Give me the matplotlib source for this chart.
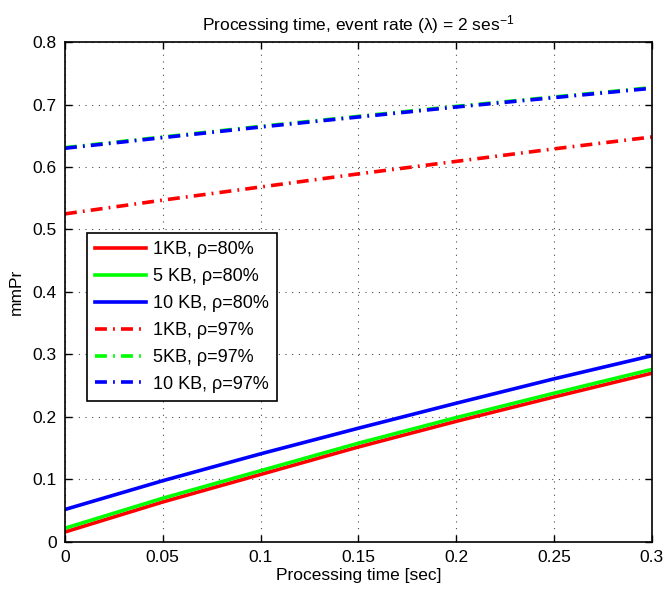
import numpy as np
import matplotlib
matplotlib.use("Agg")
import matplotlib.pyplot as plt

plt.rcParams['font.family'] = ['Liberation Sans', 'DejaVu Sans']
plt.rcParams['mathtext.fontset'] = 'custom'
plt.rcParams['mathtext.rm'] = 'Liberation Sans'
plt.rcParams['mathtext.it'] = 'Liberation Sans:italic'

# processing time [sec]
t = [0, 0.05, 0.1, 0.15, 0.2, 0.25, 0.3]

# rho = 80%
kb1_80 = [0.016, 0.064, 0.108, 0.152, 0.193, 0.232, 0.270]
kb5_80 = [0.022, 0.070, 0.114, 0.158, 0.199, 0.238, 0.276]
kb10_80 = [0.052, 0.098, 0.141, 0.182, 0.222, 0.261, 0.298]

# rho = 97%
kb1_97 = [0.525, 0.547, 0.568, 0.589, 0.609, 0.629, 0.648]
kb5_97 = [0.631, 0.648, 0.665, 0.681, 0.697, 0.712, 0.727]
kb10_97 = [0.630, 0.647, 0.664, 0.680, 0.696, 0.711, 0.726]

labels = ['1KB, \u03c1=80%', '5 KB, \u03c1=80%', '10 KB, \u03c1=80%',
          '1KB, \u03c1=97%', '5KB, \u03c1=97%', '10 KB, \u03c1=97%']

fig = plt.figure(figsize=(6.65, 5.9), dpi=100)
ax = fig.add_axes([0.0977, 0.0814, 0.8823, 0.8474])

lw = 2.6
dashdot = (0, (3.3, 1.7, 0.5, 1.7))
ax.plot(t, kb1_80, color='#ff0000', lw=lw, label=labels[0])
ax.plot(t, kb5_80, color='#00ff00', lw=lw, label=labels[1])
ax.plot(t, kb10_80, color='#0000ff', lw=lw, label=labels[2])
ax.plot(t, kb1_97, color='#ff0000', lw=lw, ls=dashdot, label=labels[3])
ax.plot(t, kb5_97, color='#00ff00', lw=lw, ls=dashdot, label=labels[4])
ax.plot(t, kb10_97, color='#0000ff', lw=lw, ls=dashdot, label=labels[5])

ax.set_xlim(0, 0.3)
ax.set_ylim(0, 0.8)
ax.set_xticks([0, 0.05, 0.1, 0.15, 0.2, 0.25, 0.3])
ax.set_xticklabels(['0', '0.05', '0.1', '0.15', '0.2', '0.25', '0.3'])
ax.set_yticks(np.arange(0, 0.81, 0.1))
ax.set_yticklabels(['0', '0.1', '0.2', '0.3', '0.4', '0.5', '0.6', '0.7', '0.8'])
ax.tick_params(direction='in', top=True, right=True, length=5, width=1,
               labelsize=12.5, pad=6)
ax.grid(True, color='black', ls=(0, (1, 5)), lw=0.8, alpha=0.7)
for s in ax.spines.values():
    s.set_linewidth(1.2)

ax.set_xlabel('Processing time [sec]', fontsize=12.5, labelpad=2)
ax.set_ylabel('mmPr', fontsize=12.5, labelpad=6)
ax.set_title('Processing time, event rate (\u03bb) = 2 ses$^{-1}$', fontsize=12.5, pad=8)

leg = ax.legend(loc='upper left', bbox_to_anchor=(0.038, 0.618), fontsize=13,
                fancybox=False, framealpha=1, edgecolor='black',
                handlelength=2.8, borderpad=0.45, labelspacing=0.55,
                handletextpad=0.4, borderaxespad=0)
leg.get_frame().set_linewidth(1.2)

fig.savefig('out.png', dpi=100)
